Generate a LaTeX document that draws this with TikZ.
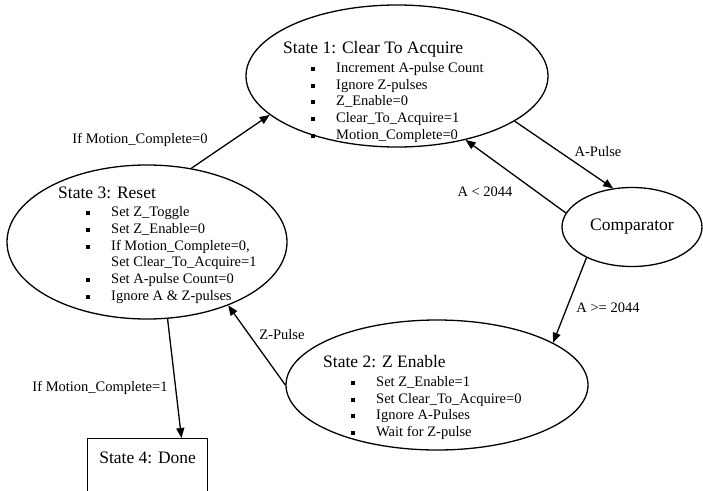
\documentclass[tikz,border=0pt]{standalone}
\usepackage{fontspec}
\setmainfont{Liberation Serif}
\usetikzlibrary{shapes.geometric,arrows.meta}
\newcommand{\itm}{\hspace*{28pt}\rule[1.5pt]{4pt}{4pt}\hspace*{21pt}}
\newcommand{\ttl}{\fontsize{17.5}{19}\selectfont}
\begin{document}
\begin{tikzpicture}
		[x=1pt,y=-1pt,
		state/.style={ellipse,draw,line width=1.3pt,inner sep=0pt},
		donebox/.style={draw,line width=1.3pt,anchor=north west,minimum width=120pt,
inner xsep=0pt,inner ysep=12pt,text height=12.5pt,text depth=40pt,font=\ttl},
		textstyle/.style={anchor=north west,inner sep=0pt,align=left,
font=\fontsize{14.5}{16.7}\selectfont},
		lbl/.style={inner sep=0pt,font=\fontsize{14.5}{16.7}\selectfont},
		>={Triangle[length=10pt,width=8pt]},
		edgestyle/.style={->,line width=1.3pt}]
		\useasboundingbox (0,0) rectangle (703,490);
		\node at (397, 76) (s1) [state,minimum width=302pt,minimum height=142pt] {};
		\node at (147, 242) (s3) [state,minimum width=280pt,minimum height=154pt] {};
		\node at (437, 385) (s2) [state,minimum width=302pt,minimum height=130pt] {};
		\node at (632, 227) (cmp) [state,minimum width=140pt,minimum height=79pt,font=\ttl] {Comparator};
		\node at (87, 438) (s4) [donebox] {State 4: Done};
		% state texts
		\node at (283, 41.5) (t1) [textstyle] {{\ttl State 1: Clear To Acquire}\\[1.8pt]
			\itm Increment A-pulse Count\\ \itm Ignore Z-pulses\\ \itm Z\_Enable=0\\
			\itm Clear\_To\_Acquire=1\\ \itm Motion\_Complete=0};
		\node at (58, 186.5) (t3) [textstyle] {{\ttl State 3: Reset}\\[1.8pt]
			\itm Set Z\_Toggle\\ \itm Set Z\_Enable=0\\ \itm If Motion\_Complete=0,\\
			\hspace*{53pt}Set Clear\_To\_Acquire=1\\ \itm Set A-pulse Count=0\\
			\itm Ignore A \& Z-pulses};
		\node at (323, 355.5) (t2) [textstyle] {{\ttl State 2: Z Enable}\\[1.8pt]
			\itm Set Z\_Enable=1\\ \itm Set Clear\_To\_Acquire=0\\ \itm Ignore A-Pulses\\
			\itm Wait for Z-pulse};
		% transitions
		\draw[edgestyle] (s3.59) -- (s1.197) node[lbl] at (140, 140) {If Motion\_Complete=0};
		\draw[edgestyle] (s1.339) -- (cmp.116) node[lbl] at (598, 152) {A-Pulse};
		\draw[edgestyle] (cmp.168) -- (s1.317) node[lbl] at (485, 192) {A < 2044};
		\draw[edgestyle] (cmp.214) -- (s2.20) node[lbl] at (608, 308) {A >= 2044};
		\draw[edgestyle] (s2.180) -- (s3.322) node[lbl] at (282, 335) {Z-Pulse};
		\draw[edgestyle] (s3.285) -- (s4.49) node[lbl] at (100, 388) {If Motion\_Complete=1};
	\end{tikzpicture}
\end{document}
